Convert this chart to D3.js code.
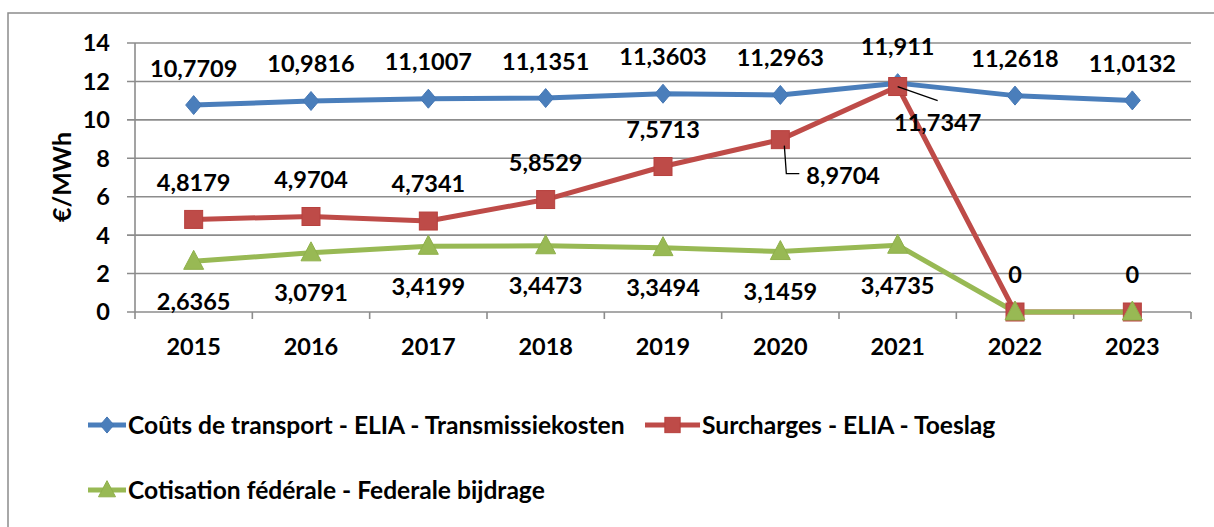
<!DOCTYPE html>
<html>
<head>
<meta charset="utf-8">
<script src="https://cdn.jsdelivr.net/npm/d3@7"></script>
<style>
  html, body { margin: 0; padding: 0; background: #fff; }
  svg { display: block; }
  text { font-family: "Lato", "Open Sans", sans-serif; font-weight: bold; fill: #000; }
</style>
</head>
<body>
<svg id="chart" width="1214" height="527"></svg>
<script>
const years = ["2015","2016","2017","2018","2019","2020","2021","2022","2023"];
const transport = [10.7709, 10.9816, 11.1007, 11.1351, 11.3603, 11.2963, 11.911, 11.2618, 11.0132];
const surcharges = [4.8179, 4.9704, 4.7341, 5.8529, 7.5713, 8.9704, 11.7347, 0, 0];
const cotisation = [2.6365, 3.0791, 3.4199, 3.4473, 3.3494, 3.1459, 3.4735, 0, 0];
const yTicks = [0, 2, 4, 6, 8, 10, 12, 14];
const seriesNames = [
  "Coûts de transport - ELIA - Transmissiekosten",
  "Surcharges - ELIA - Toeslag",
  "Cotisation fédérale - Federale bijdrage"
];
const colors = ["#4a7ebb", "#be4b48", "#98b954"];
const yTitle = "€/MWh";

const svg = d3.select("#chart");

// outer frame
svg.append("rect").attr("x", 8).attr("y", 13).attr("width", 1214).attr("height", 600)
  .attr("fill", "none").attr("stroke", "#8c8c8c").attr("stroke-width", 1.5);

const x = d3.scaleBand().domain(years).range([135, 1191]).paddingInner(0).paddingOuter(0);
const y = d3.scaleLinear().domain([0, 14]).range([312, 43]);
const cx = d => x(d) + x.bandwidth() / 2;

// gridlines
svg.append("g").selectAll("line").data(yTicks).join("line")
  .attr("x1", 127).attr("x2", 1191)
  .attr("y1", d => y(d)).attr("y2", d => y(d))
  .attr("stroke", "#8c8c8c").attr("stroke-width", 1.6);

// y axis line
svg.append("line").attr("x1", 135).attr("x2", 135).attr("y1", y(14)).attr("y2", y(0))
  .attr("stroke", "#8c8c8c").attr("stroke-width", 1.6);

// y tick labels
svg.append("g").selectAll("text").data(yTicks).join("text")
  .attr("x", 110).attr("y", d => y(d)).attr("dy", "0.36em")
  .attr("text-anchor", "end").style("font-size", "23.5px").text(d => d);

// x tick marks at band boundaries
const bounds = years.map(d => x(d)).concat([x(years[years.length - 1]) + x.bandwidth()]);
svg.append("g").selectAll("line").data(bounds).join("line")
  .attr("x1", d => d).attr("x2", d => d).attr("y1", y(0)).attr("y2", y(0) + 7)
  .attr("stroke", "#8c8c8c").attr("stroke-width", 1.6);

// x labels
svg.append("g").selectAll("text").data(years).join("text")
  .attr("x", d => cx(d)).attr("y", 347).attr("dy", "0.36em")
  .attr("text-anchor", "middle").style("font-size", "23.5px").text(d => d);

// y title
svg.append("text").attr("transform", "translate(62,177) rotate(-90)")
  .attr("text-anchor", "middle").attr("dy", "0.36em").style("font-size", "25px").text(yTitle);

const allSeries = [transport, surcharges, cotisation];
const line = d3.line().x((d, i) => cx(years[i])).y(d => y(d));

allSeries.forEach((vals, si) => {
  svg.append("path").datum(vals).attr("d", line)
    .attr("fill", "none").attr("stroke", colors[si]).attr("stroke-width", 5)
    .attr("stroke-linejoin", "round");
});

function marker(g, si, px, py, scale) {
  const s = scale || 1;
  if (si === 0) {
    g.append("path").attr("d", `M${px},${py - 9.5 * s}L${px + 8 * s},${py}L${px},${py + 9.5 * s}L${px - 8 * s},${py}Z`)
      .attr("fill", colors[0]).attr("stroke", "#4577b4").attr("stroke-width", 1);
  } else if (si === 1) {
    g.append("rect").attr("x", px - 9 * s).attr("y", py - 9 * s).attr("width", 18 * s).attr("height", 18 * s)
      .attr("fill", colors[1]).attr("stroke", "#b7413e").attr("stroke-width", 1);
  } else {
    g.append("path").attr("d", `M${px},${py - 11 * s}L${px + 10 * s},${py + 8 * s}L${px - 10 * s},${py + 8 * s}Z`)
      .attr("fill", colors[2]).attr("stroke", "#8fb04b").attr("stroke-width", 1);
  }
}

allSeries.forEach((vals, si) => {
  const g = svg.append("g");
  vals.forEach((v, i) => marker(g, si, cx(years[i]), y(v)));
});

const fmt = v => String(v).replace(".", ",");
const labels = svg.append("g").style("font-size", "23.5px");

// transport labels above
transport.forEach((v, i) => {
  labels.append("text").attr("x", cx(years[i])).attr("y", y(v) - 37).attr("dy", "0.36em")
    .attr("text-anchor", "middle").text(fmt(v));
});
// surcharges labels
surcharges.forEach((v, i) => {
  const px = cx(years[i]), py = y(v);
  if (years[i] === "2020") {
    labels.append("path").attr("d", `M${px + 4},${py + 6}L${px + 6},${py + 34}L${px + 19},${py + 34}`)
      .attr("fill", "none").attr("stroke", "#000").attr("stroke-width", 1.3);
    labels.append("text").attr("x", px + 26).attr("y", py + 36).attr("dy", "0.36em")
      .attr("text-anchor", "start").text(fmt(v));
  } else if (years[i] === "2021") {
    labels.append("line").attr("x1", px).attr("y1", py).attr("x2", px + 40).attr("y2", py + 14)
      .attr("stroke", "#000").attr("stroke-width", 1.3);
    labels.append("text").attr("x", px + 40).attr("y", py + 36).attr("dy", "0.36em")
      .attr("text-anchor", "middle").text(fmt(v));
  } else {
    labels.append("text").attr("x", px).attr("y", py - 37).attr("dy", "0.36em")
      .attr("text-anchor", "middle").text(fmt(v));
  }
});
// cotisation labels below (not shown for zero values)
cotisation.forEach((v, i) => {
  if (v === 0) return;
  labels.append("text").attr("x", cx(years[i])).attr("y", y(v) + 40).attr("dy", "0.36em")
    .attr("text-anchor", "middle").text(fmt(v));
});

// legend
const legendItems = [
  { si: 0, x: 88, y: 425 },
  { si: 1, x: 645, y: 425 },
  { si: 2, x: 88, y: 490 }
];
const lg = svg.append("g");
legendItems.forEach(it => {
  const w = it.si === 1 ? 55 : 38;
  lg.append("line").attr("x1", it.x).attr("x2", it.x + w).attr("y1", it.y).attr("y2", it.y)
    .attr("stroke", colors[it.si]).attr("stroke-width", 5);
  marker(lg, it.si, it.x + w / 2, it.y, 0.85);
  lg.append("text").attr("x", it.x + w + 2).attr("y", it.y).attr("dy", "0.36em")
    .style("font-size", "24.6px").text(seriesNames[it.si]);
});
</script>
</body>
</html>
